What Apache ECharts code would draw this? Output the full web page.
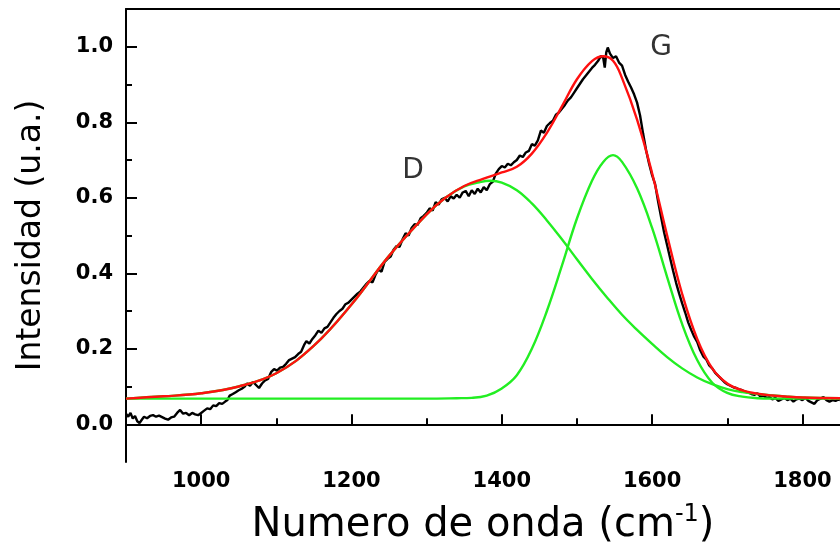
<!DOCTYPE html>
<html>
<head>
<meta charset="utf-8">
<script src="https://cdn.jsdelivr.net/npm/echarts@6/dist/echarts.min.js"></script>
<style>
  html, body { margin: 0; padding: 0; background: #fff; }
  #container { width: 840px; height: 551px; }
</style>
</head>
<body>
<div id="container"></div>
<script>
// measured spectrum (black)
var spectrumX = [900,903,906,909,912,915,918,921,924,928,932,936,940,944,948,952,956,960,964,968,972,976,980,984,988,992,996,1000,1004,1008,1012,1016,1020,1024,1028,1032,1035,1038,1042,1046,1050,1054,1058,1061,1065,1069,1073,1077,1081,1085,1089,1093,1097,1101,1105,1109,1113,1117,1121,1125,1129,1133,1137,1140,1144,1148,1152,1156,1160,1164,1168,1172,1176,1180,1184,1188,1192,1196,1200,1204,1208,1212,1216,1220,1224,1228,1232,1236,1240,1244,1248,1252,1256,1260,1264,1268,1272,1276,1280,1284,1288,1292,1296,1300,1304,1308,1312,1316,1320,1324,1328,1332,1336,1340,1344,1348,1352,1356,1360,1364,1368,1372,1376,1380,1384,1388,1392,1396,1400,1404,1408,1412,1416,1420,1424,1428,1432,1436,1440,1444,1448,1452,1456,1460,1464,1468,1472,1476,1480,1484,1488,1492,1496,1500,1504,1508,1512,1516,1520,1524,1528,1532,1535,1537,1539,1541,1544,1548,1552,1556,1560,1564,1568,1572,1576,1580,1584,1588,1592,1596,1600,1604,1608,1612,1616,1620,1624,1628,1632,1636,1640,1644,1648,1652,1656,1660,1664,1668,1672,1676,1680,1684,1688,1692,1696,1700,1704,1708,1712,1716,1720,1724,1728,1732,1736,1740,1744,1748,1752,1756,1760,1764,1768,1772,1776,1780,1784,1788,1792,1796,1800,1804,1808,1812,1816,1820,1824,1828,1832,1836,1840,1844,1848,1850];
var spectrumY = [0.028,0.020,0.030,0.015,0.022,0.008,0.003,0.012,0.020,0.016,0.022,0.024,0.020,0.023,0.019,0.015,0.012,0.018,0.020,0.030,0.038,0.028,0.030,0.024,0.030,0.026,0.024,0.030,0.036,0.042,0.040,0.050,0.048,0.056,0.054,0.060,0.064,0.076,0.080,0.085,0.090,0.094,0.100,0.108,0.102,0.112,0.104,0.096,0.108,0.116,0.120,0.138,0.146,0.142,0.150,0.152,0.160,0.170,0.174,0.178,0.186,0.192,0.210,0.220,0.214,0.226,0.236,0.248,0.242,0.254,0.258,0.270,0.282,0.292,0.300,0.306,0.318,0.322,0.330,0.338,0.346,0.352,0.362,0.372,0.380,0.376,0.396,0.410,0.404,0.430,0.438,0.444,0.462,0.472,0.470,0.490,0.506,0.500,0.520,0.530,0.528,0.546,0.552,0.560,0.572,0.566,0.588,0.582,0.596,0.600,0.590,0.604,0.598,0.608,0.600,0.614,0.618,0.604,0.620,0.610,0.624,0.614,0.628,0.620,0.636,0.642,0.664,0.676,0.684,0.680,0.690,0.686,0.694,0.700,0.712,0.708,0.720,0.724,0.742,0.738,0.752,0.778,0.772,0.790,0.798,0.804,0.820,0.826,0.836,0.846,0.858,0.866,0.878,0.890,0.902,0.914,0.924,0.934,0.944,0.952,0.962,0.976,0.970,0.945,0.985,0.998,0.982,0.970,0.975,0.958,0.950,0.926,0.908,0.892,0.874,0.852,0.818,0.770,0.726,0.690,0.660,0.636,0.590,0.548,0.508,0.474,0.440,0.406,0.374,0.346,0.320,0.296,0.270,0.250,0.232,0.218,0.196,0.180,0.172,0.156,0.148,0.136,0.128,0.120,0.112,0.106,0.102,0.098,0.096,0.092,0.090,0.086,0.084,0.080,0.078,0.082,0.074,0.076,0.070,0.072,0.066,0.070,0.062,0.066,0.070,0.064,0.068,0.060,0.066,0.068,0.064,0.070,0.062,0.058,0.054,0.064,0.068,0.072,0.064,0.060,0.064,0.062,0.066,0.064];

// total fit (red)
var fitX = [900,950,1000,1050,1100,1150,1200,1250,1300,1325,1350,1375,1400,1420,1440,1460,1480,1500,1520,1535,1548,1560,1580,1600,1620,1640,1660,1680,1700,1720,1740,1760,1780,1800,1850];
var fitY = [0.068,0.074,0.082,0.100,0.135,0.208,0.317,0.446,0.556,0.600,0.631,0.650,0.667,0.682,0.717,0.772,0.842,0.914,0.962,0.975,0.963,0.917,0.807,0.665,0.500,0.345,0.226,0.148,0.108,0.090,0.081,0.076,0.073,0.071,0.069];

// D band (green)
var bandDX = [900,950,1000,1050,1100,1150,1200,1250,1300,1325,1350,1370,1385,1400,1420,1440,1460,1480,1500,1520,1540,1560,1580,1600,1620,1640,1660,1680,1700,1720,1740,1760,1780,1800,1850];
var bandDY = [0.068,0.074,0.082,0.100,0.135,0.208,0.317,0.446,0.556,0.600,0.630,0.641,0.645,0.640,0.620,0.585,0.540,0.490,0.437,0.385,0.336,0.290,0.250,0.213,0.178,0.148,0.124,0.106,0.093,0.085,0.080,0.076,0.073,0.071,0.069];

// G band (green)
var bandGX = [900,1100,1300,1340,1360,1380,1400,1420,1440,1460,1480,1500,1520,1535,1548,1560,1580,1600,1620,1640,1660,1680,1700,1720,1740,1760,1850];
var bandGY = [0.068,0.068,0.068,0.069,0.070,0.076,0.095,0.130,0.200,0.300,0.420,0.545,0.645,0.695,0.713,0.695,0.625,0.520,0.390,0.265,0.170,0.110,0.083,0.073,0.069,0.068,0.068];

var peakNames = ['D', 'G'];
var peakX = [1282, 1612];
var peakY = [0.671, 0.997];

var yMajor = [0, 0.2, 0.4, 0.6, 0.8, 1.0];
var yMinor = [0.1, 0.3, 0.5, 0.7, 0.9];
var xMajor = [1000, 1200, 1400, 1600, 1800];
var xMinor = [1100, 1300, 1500, 1700];

function pairs(xs, ys) {
  var out = [];
  for (var i = 0; i < xs.length; i++) out.push([xs[i], ys[i]]);
  return out;
}

var chart = echarts.init(document.getElementById('container'));

var tickFont = { fontFamily: 'DejaVu Sans', fontWeight: 'bold', fontSize: 21, color: '#000' };
var axisPen = { color: '#000', width: 2 };

chart.setOption({
  animation: false,
  backgroundColor: '#fff',
  grid: { left: 126, top: 9, width: 717, height: 457 },
  xAxis: [
    {
      type: 'value', min: 900, max: 1850, position: 'bottom',
      name: 'Numero de onda (cm{sup|-1})',
      nameLocation: 'middle', nameGap: 41,
      nameTextStyle: {
        fontFamily: 'DejaVu Sans', fontSize: 40, color: '#000',
        rich: { sup: { fontFamily: 'DejaVu Sans', fontSize: 24, color: '#000', verticalAlign: 'top', padding: [0, 0, 22, 0] } }
      },
      axisLine: { lineStyle: axisPen },
      axisTick: { inside: true, length: 10, customValues: xMajor, lineStyle: axisPen },
      axisLabel: Object.assign({ customValues: xMajor, margin: 9, formatter: function (v) { return String(v); } }, tickFont),
      splitLine: { show: false }
    },
    {
      type: 'value', min: 900, max: 1850, position: 'bottom',
      axisLine: { show: false },
      axisTick: { inside: true, length: 6, customValues: xMinor, lineStyle: axisPen },
      axisLabel: { show: false },
      splitLine: { show: false }
    },
    {
      type: 'value', min: 900, max: 1850, position: 'top',
      axisLine: { lineStyle: axisPen },
      axisTick: { show: false },
      axisLabel: { show: false },
      splitLine: { show: false }
    }
  ],
  yAxis: [
    {
      type: 'value', min: -0.1, max: 1.1, position: 'left',
      name: 'Intensidad (u.a.)',
      nameLocation: 'middle', nameGap: 78,
      nameTextStyle: { fontFamily: 'DejaVu Sans', fontSize: 33, color: '#000' },
      axisLine: { lineStyle: axisPen },
      axisTick: { inside: true, length: 11, customValues: yMajor, lineStyle: axisPen },
      axisLabel: Object.assign({ customValues: yMajor, margin: 13, formatter: function (v) { return v.toFixed(1); } }, tickFont),
      splitLine: { show: false }
    },
    {
      type: 'value', min: -0.1, max: 1.1, position: 'left', offset: 0,
      axisLine: { show: false },
      axisTick: { inside: true, length: 6, customValues: yMinor, lineStyle: axisPen },
      axisLabel: { show: false },
      splitLine: { show: false }
    }
  ],
  series: [
    {
      name: 'espectro', type: 'line', data: pairs(spectrumX, spectrumY),
      showSymbol: false, lineStyle: { color: '#000', width: 2.4 }, z: 2
    },
    {
      name: 'D', type: 'line', data: pairs(bandDX, bandDY), smooth: 0.4,
      showSymbol: false, lineStyle: { color: '#22ee22', width: 2.4 }, z: 3
    },
    {
      name: 'G', type: 'line', data: pairs(bandGX, bandGY), smooth: 0.4,
      showSymbol: false, lineStyle: { color: '#22ee22', width: 2.4 }, z: 3
    },
    {
      name: 'ajuste', type: 'line', data: pairs(fitX, fitY), smooth: 0.4,
      showSymbol: false, lineStyle: { color: '#ff1010', width: 2.4 }, z: 4
    },
    {
      type: 'scatter', symbolSize: 0, silent: true,
      data: peakNames.map(function (n, i) { return { value: [peakX[i], peakY[i]], name: n }; }),
      label: {
        show: true, position: 'inside', formatter: '{b}',
        fontFamily: 'DejaVu Sans', fontSize: 28, color: '#000'
      }
    }
  ]
});
</script>
</body>
</html>
